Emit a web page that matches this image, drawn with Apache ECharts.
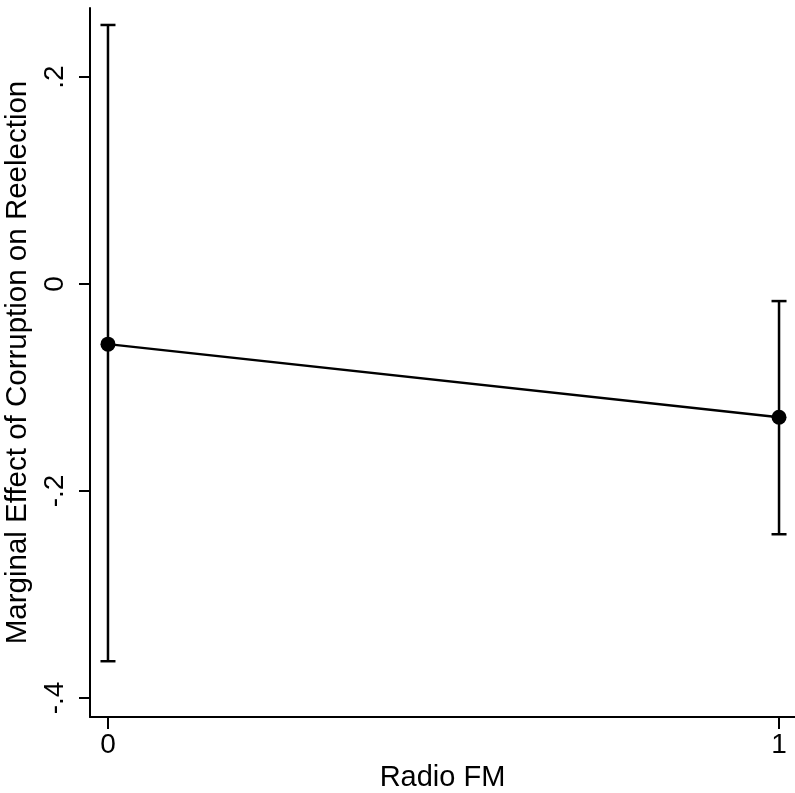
<!DOCTYPE html>
<html>
<head>
<meta charset="utf-8">
<script src="https://cdn.jsdelivr.net/npm/echarts@6/dist/echarts.min.js"></script>
<style>html,body{margin:0;padding:0;background:#fff;}#c{width:795px;height:793px;}</style>
</head>
<body>
<div id="c"></div>
<script>
const xValues = [0, 1];
const estimates = [-0.0581, -0.1287];
const ciLower = [-0.3645, -0.2418];
const ciUpper = [0.2503, -0.0165];
const yTicks = [-0.4, -0.2, 0, 0.2];
const xTicks = [0, 1];
const yTickLabels = {'-0.4': '-.4', '-0.2': '-.2', '0': '0', '0.2': '.2'};
const xTickLabels = {'0': '0', '1': '1'};

const FONT = 'Liberation Sans, Arial, Helvetica, sans-serif';
const chart = echarts.init(document.getElementById('c'), null, {renderer: 'canvas'});

const errData = xValues.map((x, i) => [x, ciLower[i], ciUpper[i]]);
const lineData = xValues.map((x, i) => [x, estimates[i]]);

chart.setOption({
  animation: false,
  backgroundColor: '#fff',
  grid: {left: 90, right: 0, top: 8, bottom: 76, containLabel: false, outerBoundsMode: 'none'},
  xAxis: {
    type: 'value', min: -0.0268, max: 1.0238,
    name: 'Radio FM', nameLocation: 'middle', nameGap: 46,
    nameTextStyle: {fontFamily: FONT, fontSize: 29, color: '#000'},
    axisLine: {show: true, onZero: false, lineStyle: {color: '#000', width: 2}},
    axisTick: {show: true, length: 12, customValues: xTicks, lineStyle: {color: '#000', width: 2}},
    axisLabel: {customValues: xTicks, margin: 14, fontFamily: FONT, fontSize: 28, color: '#000',
      formatter: v => xTickLabels[String(v)]},
    splitLine: {show: false}
  },
  yAxis: {
    type: 'value', min: -0.4184, max: 0.2667,
    name: 'Marginal Effect of Corruption on Reelection', nameLocation: 'middle', nameGap: 47,
    nameRotate: 90,
    nameTextStyle: {fontFamily: FONT, fontSize: 29.5, color: '#000'},
    axisLine: {show: true, onZero: false, lineStyle: {color: '#000', width: 2}},
    axisTick: {show: true, length: 11, customValues: yTicks, lineStyle: {color: '#000', width: 2}},
    axisLabel: {customValues: yTicks, rotate: 90, margin: 21, fontFamily: FONT, fontSize: 28, color: '#000',
      formatter: v => yTickLabels[String(Math.round(v * 10) / 10)]},
    splitLine: {show: false}
  },
  series: [
    {
      type: 'custom',
      data: errData,
      z: 2,
      renderItem: function (params, api) {
        const x = api.value(0);
        const lo = api.coord([x, api.value(1)]);
        const hi = api.coord([x, api.value(2)]);
        const half = 7.5;
        const style = {stroke: '#000', lineWidth: 2.5};
        return {
          type: 'group',
          children: [
            {type: 'line', shape: {x1: lo[0], y1: lo[1], x2: hi[0], y2: hi[1]}, style: style},
            {type: 'line', shape: {x1: lo[0] - half, y1: lo[1], x2: lo[0] + half, y2: lo[1]}, style: style},
            {type: 'line', shape: {x1: hi[0] - half, y1: hi[1], x2: hi[0] + half, y2: hi[1]}, style: style}
          ]
        };
      }
    },
    {
      type: 'line',
      data: lineData,
      z: 3,
      symbol: 'circle', symbolSize: 15,
      lineStyle: {color: '#000', width: 2.5},
      itemStyle: {color: '#000'}
    }
  ]
});
</script>
</body>
</html>
